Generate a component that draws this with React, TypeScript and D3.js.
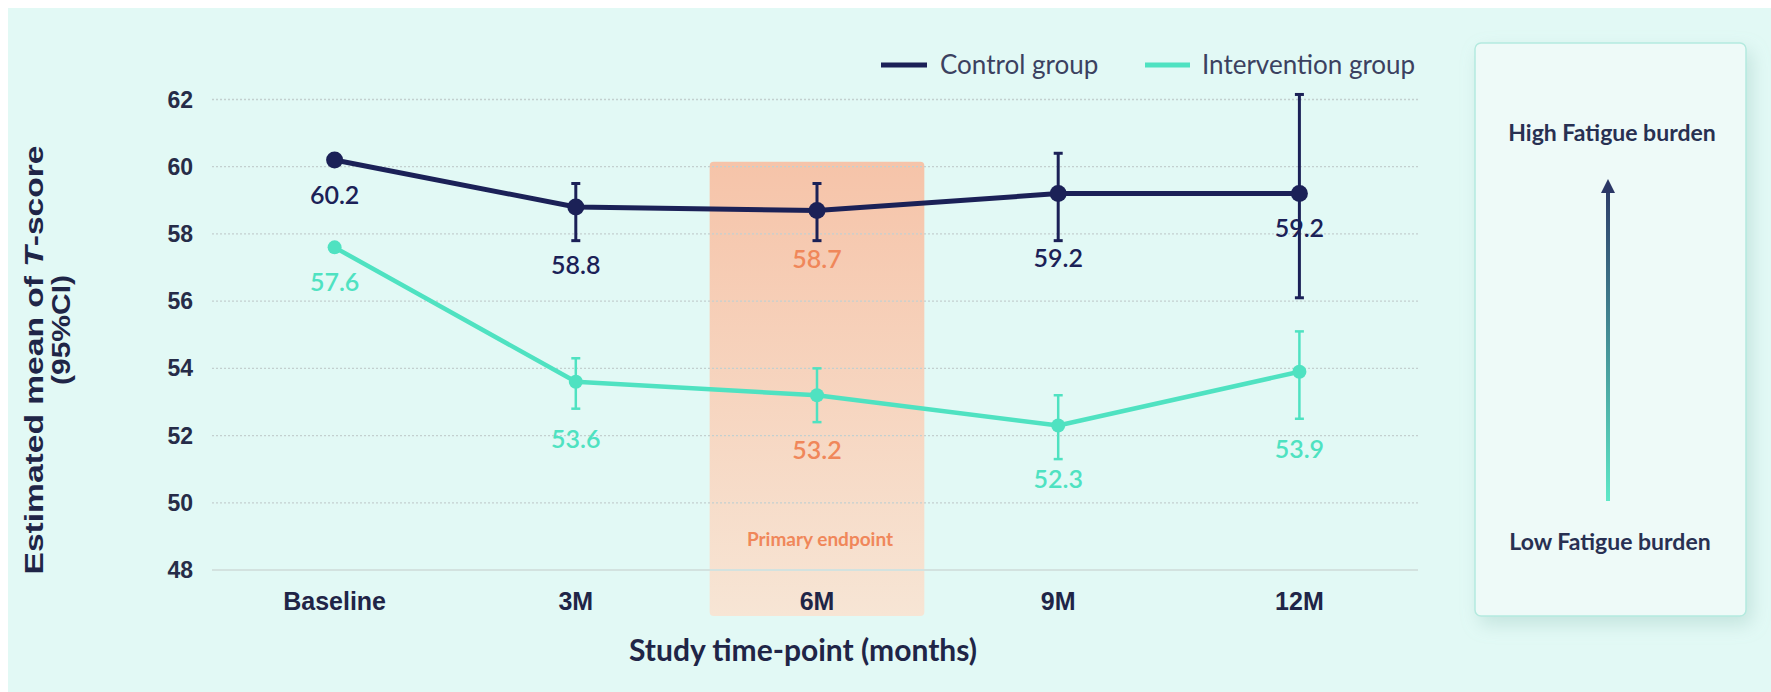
import React from "react";
import * as d3 from "d3";

const categories = ["Baseline", "3M", "6M", "9M", "12M"];
const controlMean = [60.2, 58.8, 58.7, 59.2, 59.2];
const controlLow = [null, 57.8, 57.8, 57.8, 56.1];
const controlHigh = [null, 59.5, 59.5, 60.4, 62.15];
const interventionMean = [57.6, 53.6, 53.2, 52.3, 53.9];
const interventionLow = [null, 52.8, 52.4, 51.3, 52.5];
const interventionHigh = [null, 54.3, 54.0, 53.2, 55.1];
const yTicks = [48, 50, 52, 54, 56, 58, 60, 62];
const highlightIndex = 2;

// label offsets (pixels below each point)
const controlLabelDy = [35, 58, 49, 64, 34];
const interventionLabelDy = [35, 57, 55, 54, 77];

const NAVY = "#1b2157";
const TEAL = "#4fe2c1";
const ORANGE = "#f0875a";
const BG = "#e2f9f5";

export default function App() {
  const W = 1771, H = 692;
  const x = d3.scalePoint<string>().domain(categories).range([214, 1420]).padding(0.5);
  const y = d3.scaleLinear().domain([48, 62]).range([570, 99.5]);
  const step = x.step();

  const line = d3
    .line<number>()
    .x((_, i) => x(categories[i]) as number)
    .y((d) => y(d));

  const series = [
    { name: "Control group", mean: controlMean, lo: controlLow, hi: controlHigh, color: NAVY, lw: 5, r: 8.5, ew: 3, dy: controlLabelDy },
    { name: "Intervention group", mean: interventionMean, lo: interventionLow, hi: interventionHigh, color: TEAL, lw: 4.5, r: 7, ew: 2.5, dy: interventionLabelDy },
  ];

  const hx = x(categories[highlightIndex]) as number;
  const rectW = step * 0.89;

  const labelFont = "Lato, 'Open Sans', sans-serif";
  const tickFont = "'Liberation Sans', Arial, sans-serif";

  return (
    <svg
      width={W - 8}
      height={H - 8}
      style={{ position: "absolute", left: 8, top: 8, display: "block" }}
    >
      <defs>
        <linearGradient id="peach" x1="0" y1="0" x2="0" y2="1">
          <stop offset="0" stopColor="#f7c1a5" />
          <stop offset="1" stopColor="#f8e4d3" />
        </linearGradient>
        <linearGradient id="arrowGrad" gradientUnits="userSpaceOnUse" x1="0" y1="179" x2="0" y2="501">
          <stop offset="0" stopColor="#2b3766" />
          <stop offset="1" stopColor="#5ee8c7" />
        </linearGradient>
        <filter id="shadow" x="-20%" y="-20%" width="150%" height="150%">
          <feDropShadow dx="5" dy="8" stdDeviation="9" floodColor="#8fbfb5" floodOpacity="0.35" />
        </filter>
      </defs>
      <g transform="translate(-8,-8)">
        <rect x={8} y={8} width={W - 8} height={H - 8} fill={BG} />

        {/* primary endpoint highlight */}
        <rect x={hx - rectW / 2} y={y(60.15)} width={rectW} height={y(48) + 46 - y(60.15)} rx={4} fill="url(#peach)" opacity={0.95} />
        <text x={hx + 3} y={546} textAnchor="middle" fontFamily={labelFont} fontWeight={700} fontSize={19} fill={ORANGE}>
          Primary endpoint
        </text>

        {/* gridlines */}
        {yTicks.map((t) => (
          <line
            key={t}
            x1={212}
            x2={1418}
            y1={y(t)}
            y2={y(t)}
            stroke={t === 48 ? "#d3e2df" : "#c3d0cf"}
            strokeWidth={t === 48 ? 2 : 1.3}
            strokeDasharray={t === 48 ? undefined : "2,2"}
          />
        ))}
        {yTicks.map((t) => (
          <text key={"l" + t} x={193} y={y(t) + 8} textAnchor="end" fontFamily={tickFont} fontWeight={700} fontSize={23} fill="#262c48">
            {t}
          </text>
        ))}

        {/* x categories */}
        {categories.map((c) => (
          <text key={c} x={x(c)} y={610} textAnchor="middle" fontFamily={tickFont} fontWeight={700} fontSize={25} fill="#1f2547">
            {c}
          </text>
        ))}

        {/* axis titles */}
        <text x={803} y={661} textAnchor="middle" fontFamily={labelFont} fontWeight={700} fontSize={30} fill="#1f2547">
          Study time-point (months)
        </text>
        <g transform="translate(43,360) rotate(-90)">
          <text x={0} y={0} textAnchor="middle" fontFamily={tickFont} fontWeight={700} fontSize={25} fill="#1f2547" textLength={429} lengthAdjust="spacingAndGlyphs">
            Estimated mean of <tspan fontStyle="italic">T</tspan>-score
          </text>
        </g>
        <g transform="translate(70,330) rotate(-90)">
          <text x={0} y={0} textAnchor="middle" fontFamily={tickFont} fontWeight={700} fontSize={25} fill="#1f2547" textLength={110} lengthAdjust="spacingAndGlyphs">
            (95%CI)
          </text>
        </g>

        {/* series */}
        {series.map((s) => (
          <g key={s.name}>
            <path d={line(s.mean) || ""} fill="none" stroke={s.color} strokeWidth={s.lw} strokeLinejoin="round" />
            {s.mean.map((m, i) => {
              const cx = x(categories[i]) as number;
              const lo = s.lo[i];
              const hi = s.hi[i];
              return (
                <g key={i}>
                  {lo != null && hi != null && (
                    <g stroke={s.color} strokeWidth={s.ew}>
                      <line x1={cx} x2={cx} y1={y(hi)} y2={y(lo)} />
                      <line x1={cx - 4.5} x2={cx + 4.5} y1={y(hi)} y2={y(hi)} />
                      <line x1={cx - 4.5} x2={cx + 4.5} y1={y(lo)} y2={y(lo)} />
                    </g>
                  )}
                  <circle cx={cx} cy={y(m)} r={s.r} fill={s.color} />
                </g>
              );
            })}
            {s.mean.map((m, i) => (
              <text
                key={"t" + i}
                x={x(categories[i])}
                y={y(m) + s.dy[i] + 9}
                textAnchor="middle"
                fontFamily={labelFont}
                fontWeight={600}
                fontSize={25}
                fill={i === highlightIndex ? ORANGE : s.color}
              >
                {m.toFixed(1)}
              </text>
            ))}
          </g>
        ))}

        {/* legend */}
        <line x1={881} x2={927} y1={65} y2={65} stroke={NAVY} strokeWidth={5} />
        <text x={940} y={74} fontFamily={labelFont} fontSize={26} fill="#3b4160">Control group</text>
        <line x1={1145} x2={1190} y1={65} y2={65} stroke={TEAL} strokeWidth={5} />
        <text x={1202} y={74} fontFamily={labelFont} fontSize={26} fill="#3b4160">Intervention group</text>

        {/* right panel */}
        <rect x={1475} y={43} width={271} height={573} rx={6} fill="#eefaf8" stroke="#b4eadf" strokeWidth={1.5} filter="url(#shadow)" />
        <text x={1612} y={141} textAnchor="middle" fontFamily={labelFont} fontWeight={700} fontSize={23} fill="#283052">
          High Fatigue burden
        </text>
        <text x={1610} y={550} textAnchor="middle" fontFamily={labelFont} fontWeight={700} fontSize={23} fill="#283052">
          Low Fatigue burden
        </text>
        <line x1={1608} x2={1608} y1={501} y2={190} stroke="url(#arrowGrad)" strokeWidth={4} />
        <path d="M1601,193 L1608,179 L1615,193 Z" fill="#2b3766" />
      </g>
    </svg>
  );
}
